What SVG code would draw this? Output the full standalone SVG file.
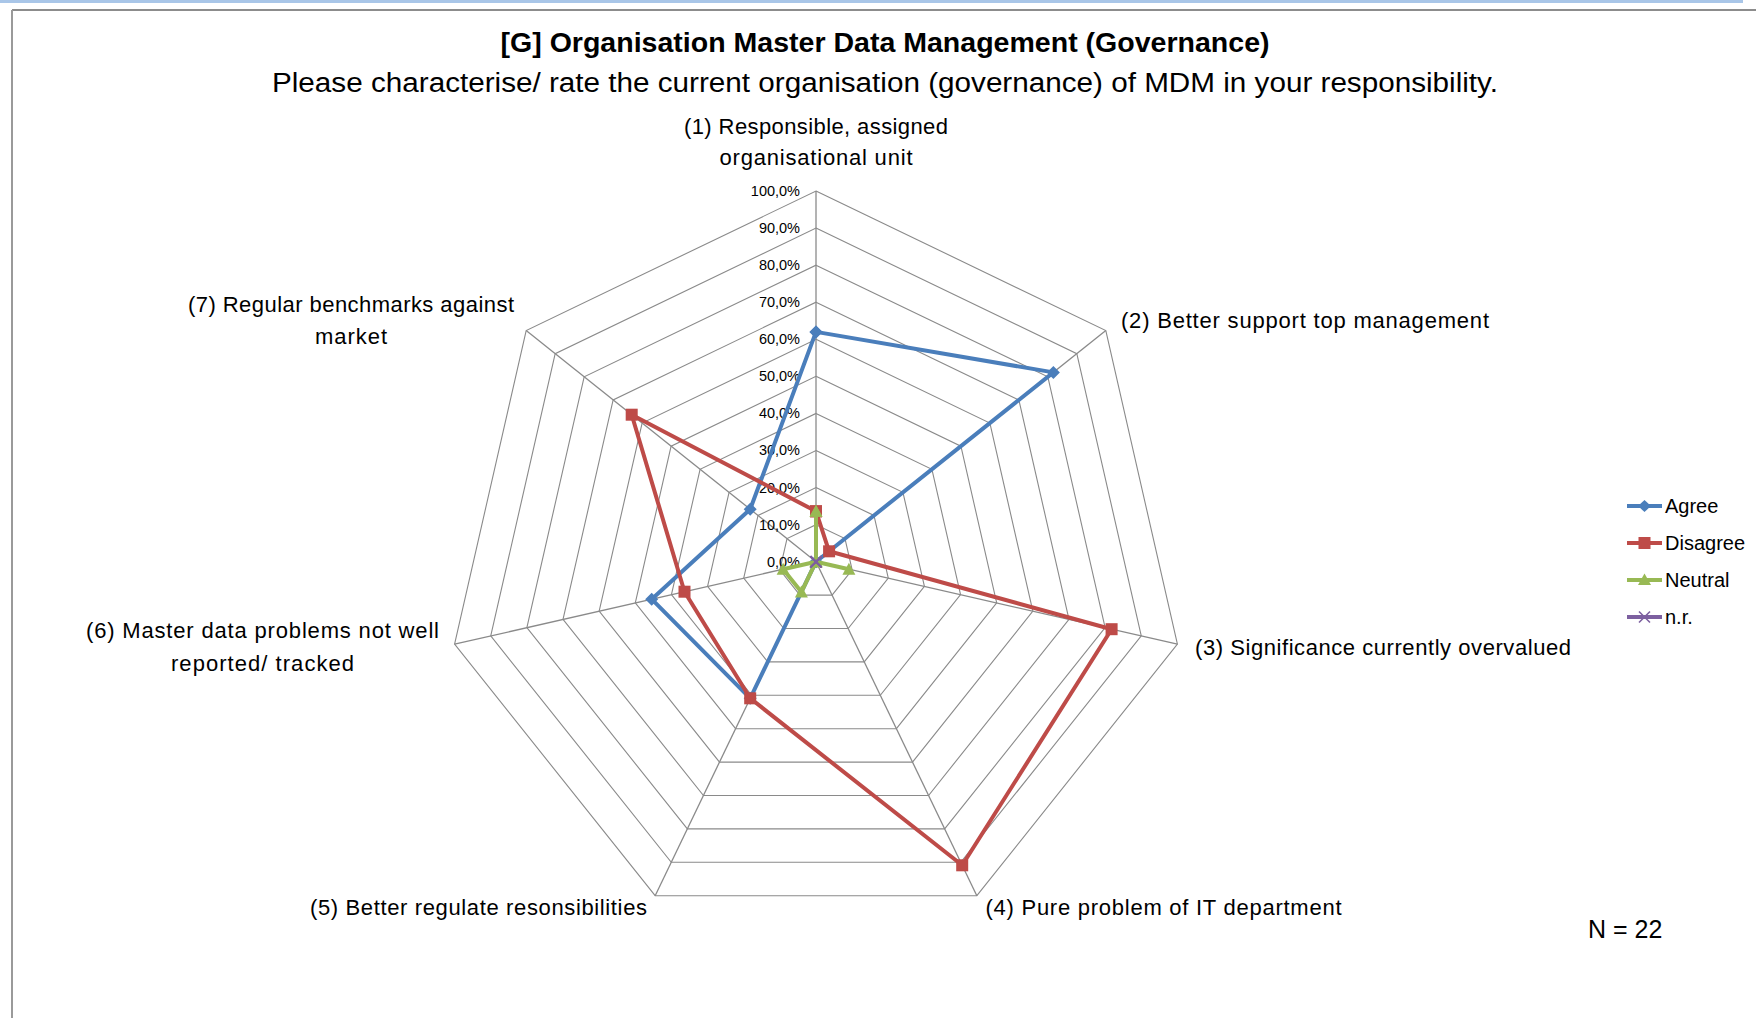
<svg xmlns="http://www.w3.org/2000/svg" width="1756" height="1018" viewBox="0 0 1756 1018">
<style>
.lbl{font-family:"Liberation Sans",Arial,sans-serif;font-size:22px;fill:#000;text-anchor:middle}
.tick{font-family:"Liberation Sans",Arial,sans-serif;font-size:14.5px;fill:#000;text-anchor:end}
.leg{font-family:"Liberation Sans",Arial,sans-serif;font-size:20px;fill:#000}
.ring{fill:none;stroke:#8a8a8a;stroke-width:1.1}
.spoke{stroke:#8a8a8a;stroke-width:1.3}
.ser{fill:none;stroke-width:4;stroke-linejoin:round}
</style>
<defs>
<marker id="mDia" markerUnits="userSpaceOnUse" markerWidth="16" markerHeight="16" refX="8" refY="8" overflow="visible"><path d="M8,1.5 L14.5,8 L8,14.5 L1.5,8 Z" fill="#4A7EBB"/></marker>
<marker id="mSq" markerUnits="userSpaceOnUse" markerWidth="16" markerHeight="16" refX="8" refY="8" overflow="visible"><rect x="2" y="2" width="12" height="12" fill="#BE4B48"/></marker>
<marker id="mTri" markerUnits="userSpaceOnUse" markerWidth="16" markerHeight="16" refX="8" refY="8" overflow="visible"><path d="M8,1.5 L14.5,13.5 L1.5,13.5 Z" fill="#98B954"/></marker>
<marker id="mX" markerUnits="userSpaceOnUse" markerWidth="16" markerHeight="16" refX="8" refY="8" overflow="visible"><path d="M2.5,2.5 L13.5,13.5 M13.5,2.5 L2.5,13.5" stroke="#7D60A0" stroke-width="1.6"/></marker>
</defs>
<rect x="0" y="0" width="1756" height="1018" fill="#fff"/>
<g id="frame">
<rect x="0" y="0" width="1743" height="3" fill="#a9c6e8"/>
<line x1="12" y1="10" x2="1756" y2="10" stroke="#8c8c8c" stroke-width="2"/>
<line x1="12" y1="10" x2="12" y2="1018" stroke="#9a9a9a" stroke-width="2"/>
</g>
<g id="title">
<text x="885" y="52" font-family="Liberation Sans, Arial, sans-serif" font-size="27" font-weight="bold" text-anchor="middle" textLength="769" lengthAdjust="spacingAndGlyphs">[G] Organisation Master Data Management (Governance)</text>
<text x="885" y="92" font-family="Liberation Sans, Arial, sans-serif" font-size="27" text-anchor="middle" textLength="1226" lengthAdjust="spacingAndGlyphs">Please characterise/ rate the current organisation (governance) of MDM in your responsibility.</text>
</g>
<g id="radar" transform="translate(816,561.7)">
<g id="grid">
<polygon class="ring" points="0,-37.07 28.98,-23.11 36.14,8.25 16.08,33.40 -16.08,33.40 -36.14,8.25 -28.98,-23.11"/>
<polygon class="ring" points="0,-74.14 57.96,-46.22 72.28,16.50 32.16,66.80 -32.16,66.80 -72.28,16.50 -57.96,-46.22"/>
<polygon class="ring" points="0,-111.21 86.94,-69.33 108.42,24.75 48.24,100.20 -48.24,100.20 -108.42,24.75 -86.94,-69.33"/>
<polygon class="ring" points="0,-148.28 115.92,-92.44 144.56,33.00 64.32,133.60 -64.32,133.60 -144.56,33.00 -115.92,-92.44"/>
<polygon class="ring" points="0,-185.35 144.90,-115.55 180.70,41.25 80.40,167.00 -80.40,167.00 -180.70,41.25 -144.90,-115.55"/>
<polygon class="ring" points="0,-222.42 173.88,-138.66 216.84,49.50 96.48,200.40 -96.48,200.40 -216.84,49.50 -173.88,-138.66"/>
<polygon class="ring" points="0,-259.49 202.86,-161.77 252.98,57.75 112.56,233.80 -112.56,233.80 -252.98,57.75 -202.86,-161.77"/>
<polygon class="ring" points="0,-296.56 231.84,-184.88 289.12,66.00 128.64,267.20 -128.64,267.20 -289.12,66.00 -231.84,-184.88"/>
<polygon class="ring" points="0,-333.63 260.82,-207.99 325.26,74.25 144.72,300.60 -144.72,300.60 -325.26,74.25 -260.82,-207.99"/>
<polygon class="ring" points="0,-370.7 289.82,-231.13 361.41,82.49 160.84,333.99 -160.84,333.99 -361.41,82.49 -289.82,-231.13"/>
<line class="spoke" x1="0" y1="0" x2="0" y2="-370.7"/>
<line class="spoke" x1="0" y1="0" x2="289.82" y2="-231.13"/>
<line class="spoke" x1="0" y1="0" x2="361.41" y2="82.49"/>
<line class="spoke" x1="0" y1="0" x2="160.84" y2="333.99"/>
<line class="spoke" x1="0" y1="0" x2="-160.84" y2="333.99"/>
<line class="spoke" x1="0" y1="0" x2="-361.41" y2="82.49"/>
<line class="spoke" x1="0" y1="0" x2="-289.82" y2="-231.13"/>
</g>
<g id="ticks">
<text class="tick" x="-16" y="5">0,0%</text>
<text class="tick" x="-16" y="-32.07">10,0%</text>
<text class="tick" x="-16" y="-69.14">20,0%</text>
<text class="tick" x="-16" y="-106.21">30,0%</text>
<text class="tick" x="-16" y="-143.28">40,0%</text>
<text class="tick" x="-16" y="-180.35">50,0%</text>
<text class="tick" x="-16" y="-217.42">60,0%</text>
<text class="tick" x="-16" y="-254.49">70,0%</text>
<text class="tick" x="-16" y="-291.56">80,0%</text>
<text class="tick" x="-16" y="-328.63">90,0%</text>
<text class="tick" x="-16" y="-365.7">100,0%</text>
</g>
<g id="connectors">
<polygon id="agree" class="ser" stroke="#4A7EBB" marker-start="url(#mDia)" marker-mid="url(#mDia)" marker-end="url(#mDia)" points="0,-229.8 237.4,-189.3 0,0 0,0 -65.8,136.6 -164.3,37.5 -65.8,-52.5"/>
<polygon id="disagree" class="ser" stroke="#BE4B48" marker-start="url(#mSq)" marker-mid="url(#mSq)" marker-end="url(#mSq)" points="0,-50.4 13.1,-10.4 295.6,67.5 146.2,303.6 -65.8,136.6 -131.5,30.0 -184.3,-147.0"/>
<polygon id="neutral" class="ser" stroke="#98B954" marker-start="url(#mTri)" marker-mid="url(#mTri)" marker-end="url(#mTri)" points="0,-50.4 0,0 32.9,7.5 0,0 -14.6,30.4 -32.9,7.5 0,0"/>
<polygon id="nr" class="ser" stroke="#7D60A0" marker-start="url(#mX)" marker-mid="url(#mX)" marker-end="url(#mX)" points="0,0 0.01,0 0,0.01 0,0 0,0 0,0 0,0"/>
</g>
</g>
<g id="axis-labels">
<g id="ax1"><text class="lbl" x="816" y="134" textLength="264">(1) Responsible, assigned</text><text class="lbl" x="816" y="165" textLength="193">organisational unit</text></g>
<g id="ax2"><text class="lbl" x="1305" y="328" textLength="368">(2) Better support top management</text></g>
<g id="ax3"><text class="lbl" x="1383" y="655" textLength="376">(3) Significance currently overvalued</text></g>
<g id="ax4"><text class="lbl" x="1163.5" y="915" textLength="356">(4) Pure problem of IT department</text></g>
<g id="ax5"><text class="lbl" x="478.5" y="915" textLength="337">(5) Better regulate resonsibilities</text></g>
<g id="ax6"><text class="lbl" x="262.5" y="638" textLength="353">(6) Master data problems not well</text><text class="lbl" x="262.5" y="671" textLength="183">reported/ tracked</text></g>
<g id="ax7"><text class="lbl" x="351" y="312" textLength="326">(7) Regular benchmarks against</text><text class="lbl" x="351" y="344" textLength="72">market</text></g>
</g>
<g id="legend">
<line x1="1627" y1="506" x2="1662" y2="506" stroke="#4A7EBB" stroke-width="4"/>
<path d="M1644.5,500 L1651,506 L1644.5,512 L1638,506 Z" fill="#4A7EBB"/>
<text class="leg" x="1665" y="513">Agree</text>
<line x1="1627" y1="543" x2="1662" y2="543" stroke="#BE4B48" stroke-width="4"/>
<rect x="1638.5" y="537" width="12" height="12" fill="#BE4B48"/>
<text class="leg" x="1665" y="550">Disagree</text>
<line x1="1627" y1="580" x2="1662" y2="580" stroke="#98B954" stroke-width="4"/>
<path d="M1644.5,573.5 L1651,585 L1638,585 Z" fill="#98B954"/>
<text class="leg" x="1665" y="587">Neutral</text>
<line x1="1627" y1="617" x2="1662" y2="617" stroke="#7D60A0" stroke-width="4"/>
<path d="M1639,611.5 L1650,622.5 M1650,611.5 L1639,622.5" stroke="#7D60A0" stroke-width="1.6"/>
<text class="leg" x="1665" y="624">n.r.</text>
</g>
<text id="n" x="1588" y="938" font-family="Liberation Sans, Arial, sans-serif" font-size="25">N = 22</text>
</svg>
